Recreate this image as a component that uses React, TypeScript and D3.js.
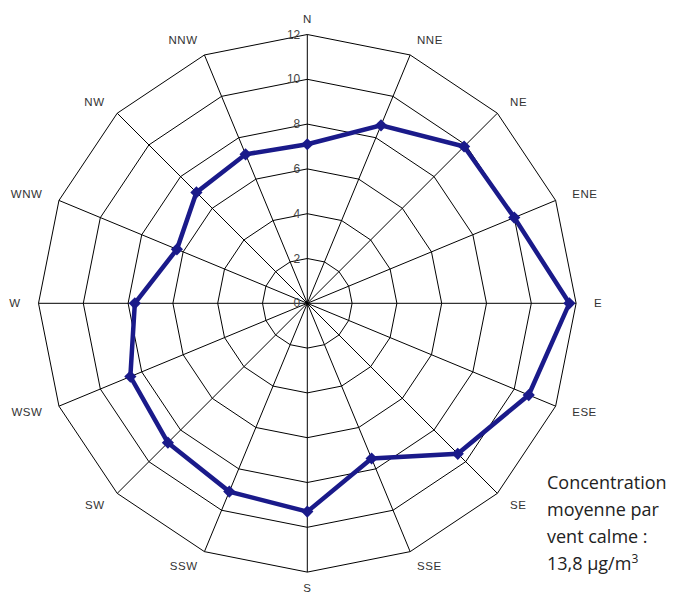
import React from "react";
import * as d3 from "d3";

// Wind sectors, clockwise from north
const directions = ["N", "NNE", "NE", "ENE", "E", "ESE", "SE", "SSE", "S", "SSW", "SW", "WSW", "W", "WNW", "NW", "NNW"];
// Mean concentration per wind sector
const concentrations = [7.1, 8.6, 9.9, 10.0, 11.7, 10.7, 9.5, 7.5, 9.3, 9.1, 8.8, 8.55, 7.7, 6.3, 7.0, 7.2];
const radialTicks = [0, 2, 4, 6, 8, 10, 12];
const noteLines = ["Concentration", "moyenne par", "vent calme :"];

const width = 683;
const height = 596;
const cx = 307.3;
const cy = 303.3;
const outerR = 268.8;

export default function App() {
  const r = d3.scaleLinear().domain([0, 12]).range([0, outerR]);
  const angle = d3
    .scaleLinear()
    .domain([0, directions.length])
    .range([0, 2 * Math.PI]);

  const pt = (i: number, v: number): [number, number] => {
    const a = angle(i);
    return [cx + r(v) * Math.sin(a), cy - r(v) * Math.cos(a)];
  };

  const ring = (v: number) => {
    const pts = directions.map((_, i) => pt(i, v));
    return d3.line()([...pts, pts[0]]) as string;
  };

  const dataPts = concentrations.map((v, i) => pt(i, v));
  const dataPath = d3.line()([...dataPts, dataPts[0]]) as string;

  const labelR = outerR + 14;
  const diamond = d3.symbol().type(d3.symbolDiamond2).size(95)() as string;

  return (
    <svg width={width} height={height} style={{ position: "absolute", left: 0, top: 0, background: "#fff" }}>
      <g fill="none" stroke="#000" strokeWidth={1}>
        {radialTicks.slice(1).map((t) => (
          <path key={t} d={ring(t)} />
        ))}
        {directions.map((d, i) => {
          const [x, y] = pt(i, 12);
          return <line key={d} x1={cx} y1={cy} x2={x} y2={y} />;
        })}
      </g>
      <g fontFamily="Liberation Sans, Arial, sans-serif" fontSize={12} fill="#444">
        {radialTicks.map((t) => (
          <text key={t} x={cx - 7} y={cy - r(t)} textAnchor="end" dominantBaseline="central">
            {t}
          </text>
        ))}
      </g>
      <g fontFamily="Liberation Sans, Arial, sans-serif" fontSize={11.5} fill="#333">
        {directions.map((d, i) => {
          const a = angle(i);
          const sx = Math.sin(a);
          const cyv = -Math.cos(a);
          const x = cx + labelR * sx;
          const y = cy + labelR * cyv;
          const anchor = Math.abs(sx) < 0.01 ? "middle" : sx > 0 ? "start" : "end";
          return (
            <text
              key={d}
              x={x + sx * 4}
              y={y + cyv * 2}
              textAnchor={anchor}
              dominantBaseline="central"
              letterSpacing={0.5}
            >
              {d}
            </text>
          );
        })}
      </g>
      <path d={dataPath} fill="none" stroke="#1a1a8a" strokeWidth={4.5} strokeLinejoin="miter" />
      {dataPts.map(([x, y], i) => (
        <path key={i} d={diamond} transform={`translate(${x},${y})`} fill="#1a1a8a" />
      ))}
      <g fontFamily="'Open Sans', sans-serif" fontSize={18} fill="#222">
        {noteLines.map((l, i) => (
          <text key={l} x={547} y={489 + i * 27}>
            {l}
          </text>
        ))}
        <text x={547} y={570}>
          13,8 µg/m<tspan fontSize={12} dy={-7}>3</tspan>
        </text>
      </g>
    </svg>
  );
}
